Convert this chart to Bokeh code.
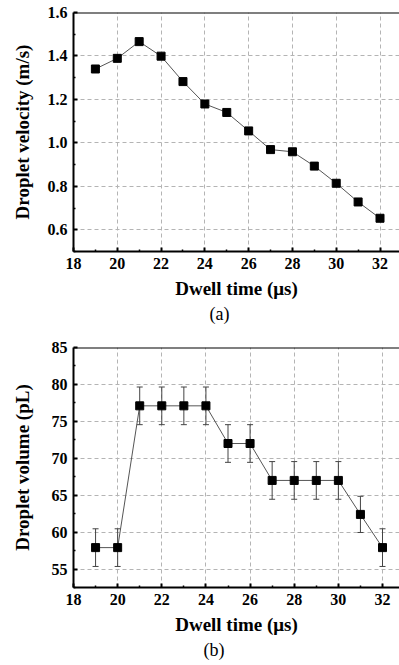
from bokeh.plotting import figure
from bokeh.models import (ColumnDataSource, Range1d, FixedTicker, Span, Whisker,
                          TeeHead, Title, PrintfTickFormatter)
from bokeh.layouts import column
from bokeh.embed import file_html
from bokeh.resources import INLINE

# ---------------- data ----------------
dwell_time = [19, 20, 21, 22, 23, 24, 25, 26, 27, 28, 29, 30, 31, 32]
velocity = [1.340, 1.389, 1.466, 1.399, 1.282, 1.179, 1.140, 1.055,
            0.969, 0.959, 0.893, 0.814, 0.728, 0.653]
volume = [57.9, 57.9, 77.1, 77.1, 77.1, 77.1, 72.0, 72.0,
          67.0, 67.0, 67.0, 67.0, 62.4, 57.9]
volume_err = [2.55, 2.55, 2.55, 2.55, 2.55, 2.55, 2.55, 2.55,
              2.55, 2.55, 2.55, 2.55, 2.45, 2.55]

x_ticks = [18, 20, 22, 24, 26, 28, 30, 32]
x_minor = [19, 21, 23, 25, 27, 29, 31]
vel_ticks = [0.6, 0.8, 1.0, 1.2, 1.4, 1.6]
vel_minor = [0.5, 0.7, 0.9, 1.1, 1.3, 1.5]
vol_ticks = [55, 60, 65, 70, 75, 80, 85]
vol_minor = [52.5, 57.5, 62.5, 67.5, 72.5, 77.5, 82.5]

FONT = "Liberation Serif"


def style(p, xt, xm, yt, ym, ylabel, ylabel_standoff, caption, cap_offset):
    p.outline_line_color = None
    p.xaxis.ticker = FixedTicker(ticks=xt, minor_ticks=xm)
    p.yaxis.ticker = FixedTicker(ticks=yt, minor_ticks=ym)
    for ax in (p.xaxis, p.yaxis):
        ax.axis_line_width = 2
        ax.axis_line_color = "black"
        ax.major_tick_in = 4
        ax.major_tick_out = 0
        ax.minor_tick_in = 2
        ax.minor_tick_out = 0
        ax.major_tick_line_width = 2
        ax.minor_tick_line_width = 1.5
        ax.major_tick_line_color = "black"
        ax.minor_tick_line_color = "black"
        ax.major_label_text_font = FONT
        ax.major_label_text_font_style = "bold"
        ax.major_label_text_font_size = "16px"
        ax.major_label_text_color = "black"
        ax.axis_label_text_font = FONT
        ax.axis_label_text_font_style = "bold"
        ax.axis_label_text_font_size = "19px"
        ax.axis_label_text_color = "black"
        ax.major_label_standoff = 6
    p.xaxis.axis_label = "Dwell time (\u03bcs)"
    p.yaxis.axis_label = ylabel
    p.xaxis.axis_label_standoff = 6
    p.yaxis.axis_label_standoff = ylabel_standoff
    for g in (p.xgrid, p.ygrid):
        g.grid_line_color = "#b4b4b4"
        g.grid_line_dash = "4 3"
        g.grid_line_width = 1
    top = Span(location=p.y_range.end, dimension="width",
               line_color="black", line_width=2)
    p.add_layout(top)
    p.add_layout(Title(text=caption, align="left", offset=cap_offset, standoff=0,
                       text_font=FONT, text_font_style="normal",
                       text_font_size="18px", text_color="black"), "below")


# ---------------- panel (a) ----------------
src_a = ColumnDataSource(dict(x=dwell_time, y=velocity))
p1 = figure(width=399, height=330, x_range=Range1d(18, 32.89),
            y_range=Range1d(0.5, 1.6), output_backend="svg",
            toolbar_location=None, min_border_left=67, min_border_right=0,
            min_border_top=12, min_border_bottom=79, background_fill_color="white")
p1.line("x", "y", source=src_a, line_color="#555555", line_width=1)
p1.scatter("x", "y", source=src_a, marker="square", size=8,
           fill_color="black", line_color="black")
style(p1, x_ticks, x_minor, vel_ticks, vel_minor,
      "Droplet velocity (m/s)", 12, "(a)", 136)
p1.yaxis.formatter = PrintfTickFormatter(format="%.1f")

# ---------------- panel (b) ----------------
upper = [v + e for v, e in zip(volume, volume_err)]
lower = [v - e for v, e in zip(volume, volume_err)]
src_b = ColumnDataSource(dict(x=dwell_time, y=volume, upper=upper, lower=lower))
p2 = figure(width=399, height=335, x_range=Range1d(18, 32.77),
            y_range=Range1d(52.5, 85), output_backend="svg",
            toolbar_location=None, min_border_left=73, min_border_right=0,
            min_border_top=17, min_border_bottom=78, background_fill_color="white")
p2.line("x", "y", source=src_b, line_color="#555555", line_width=1)
wh = Whisker(base="x", upper="upper", lower="lower", source=src_b,
             line_color="#444444", line_width=1,
             upper_head=TeeHead(size=6, line_color="#444444", line_width=1),
             lower_head=TeeHead(size=6, line_color="#444444", line_width=1))
p2.add_layout(wh)
p2.scatter("x", "y", source=src_b, marker="square", size=8,
           fill_color="black", line_color="black")
style(p2, x_ticks, x_minor, vol_ticks, vol_minor,
      "Droplet volume (pL)", 16, "(b)", 130)

layout = column(p1, p2, spacing=0)
open("out.html", "w").write(file_html(layout, INLINE))
